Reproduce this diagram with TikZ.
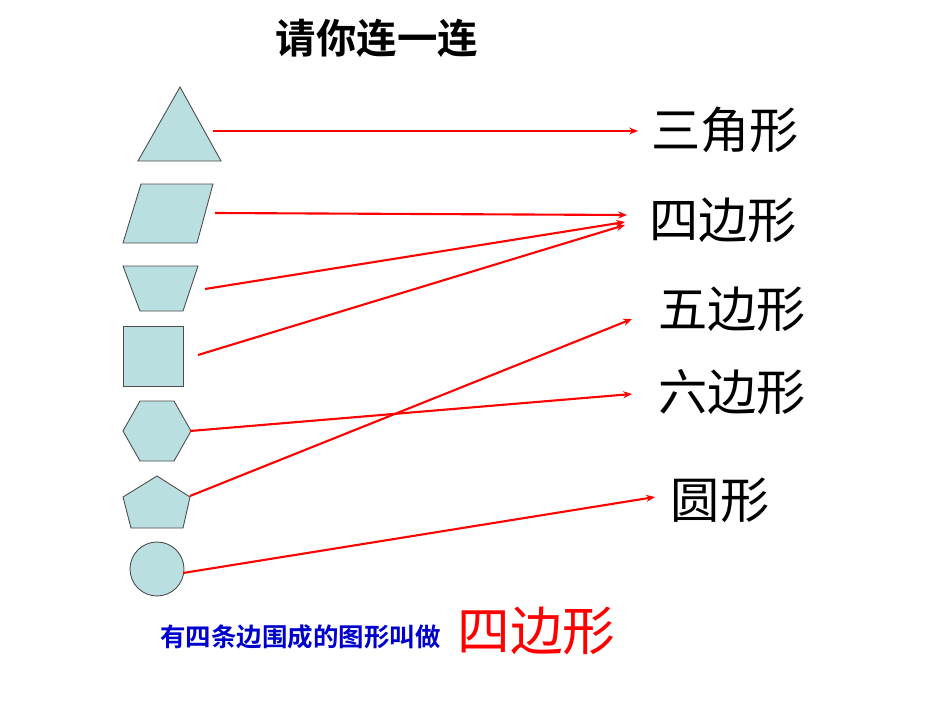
\documentclass[tikz,border=0pt]{standalone}
\usepackage{fontspec}
\usetikzlibrary{arrows.meta}
\newfontfamily\cjk{Noto Sans CJK SC}
\newfontfamily\cjkb{Noto Sans CJK SC Bold}
\definecolor{shfill}{HTML}{BADFE0}
\begin{document}
\begin{tikzpicture}[x=0.02cm,y=-0.02cm,
  shp/.style={draw=black!70,fill=shfill,line width=0.5pt},
  arr/.style={red,line width=1.2pt,-{Stealth[length=5pt,width=4pt]}},
  lab/.style={font=\cjk\fontsize{28}{28}\selectfont,inner sep=0pt}]
\useasboundingbox (0,0) rectangle (950,713);
\fill[white] (0,0) rectangle (950,713);
\node[font=\cjkb\fontsize{23}{23}\selectfont] (title) at (377,38) {请你连一连};
\filldraw[shp] (180,87) -- (221,161) -- (138,161) -- cycle;
\filldraw[shp] (123,243) -- (197,243) -- (213,184) -- (141,184) -- cycle;
\filldraw[shp] (123,266) -- (198,266) -- (183,311) -- (140,311) -- cycle;
\filldraw[shp] (123,326) rectangle (183,386);
\filldraw[shp] (123,431) -- (140,401) -- (174,401) -- (191,431) -- (174,461) -- (140,461) -- cycle;
\filldraw[shp] (157,476) -- (190,497) -- (183,528) -- (131,528) -- (123,497) -- cycle;
\filldraw[shp] (157,569) circle (27);
\node[lab] (l3) at (725,130) {三角形};
\node[lab] (l4) at (723,220) {四边形};
\node[lab] (l5) at (732,309) {五边形};
\node[lab] (l6) at (732,392) {六边形};
\node[lab] (lc) at (720,500) {圆形};
\coordinate (s1) at (213,131); \coordinate (e1) at (638,131);
\coordinate (s2) at (215,213); \coordinate (e2) at (627,215);
\coordinate (s3) at (205,289); \coordinate (e3) at (625,222);
\coordinate (s4) at (198,355); \coordinate (e4) at (625,225);
\coordinate (s5) at (190,431); \coordinate (e5) at (632,394);
\coordinate (s6) at (190,496); \coordinate (e6) at (632,319);
\coordinate (s7) at (183,573); \coordinate (e7) at (655,497);
\foreach \i in {1,...,7} \draw[arr] (s\i) -- (e\i);
\node[font=\cjkb\fontsize{14.5}{14.5}\selectfont,text=blue!80!black,anchor=west,inner sep=0pt] (b1) at (160,637) {有四条边围成的图形叫做};
\node[font=\cjk\fontsize{30}{30}\selectfont,text=red,anchor=west,inner sep=0pt] (b2) at (457,631) {四边形};
\end{tikzpicture}
\end{document}
